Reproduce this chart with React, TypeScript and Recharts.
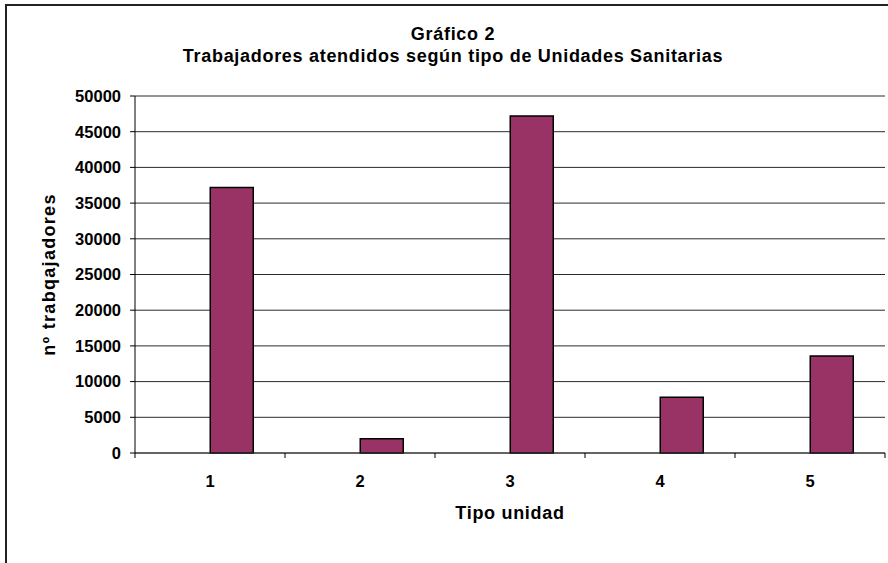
import React from "react";
import { BarChart, Bar, XAxis, YAxis, CartesianGrid } from "recharts";

const categories = ["1", "2", "3", "4", "5"];
const trabajadores = [37200, 2000, 47200, 7800, 13600];
const emptySeries: (number | null)[] = [null, null, null, null, null];
const yTicks = [0, 5000, 10000, 15000, 20000, 25000, 30000, 35000, 40000, 45000, 50000];
const titleLine1 = "Gráfico 2";
const titleLine2 = "Trabajadores atendidos según tipo de Unidades Sanitarias";
const yLabel = "nº trabqajadores";
const xLabel = "Tipo unidad";

const data = categories.map((c, i) => ({
  tipo: c,
  vacio: emptySeries[i],
  trabajadores: trabajadores[i],
}));

const FONT = "'Liberation Sans', Arial, sans-serif";

const CategoryTick = (props: any) => {
  const { x, y, payload, index } = props;
  const half = payload && typeof payload.offset === "number" ? payload.offset : 0;
  return (
    <g>
      <text
        x={x}
        y={y + 22}
        dy="0.71em"
        textAnchor="middle"
        fontFamily={FONT}
        fontWeight="bold"
        fontSize={16.5}
        fill="#000"
      >
        {payload.value}
      </text>
      {index === 0 && half > 0 && (
        <line x1={x - half} x2={x - half} y1={y} y2={y + 5} stroke="#000" strokeWidth={1} />
      )}
      {half > 0 && (
        <line x1={x + half} x2={x + half} y1={y} y2={y + 5} stroke="#000" strokeWidth={1} />
      )}
    </g>
  );
};

const YLabel = (props: any) => {
  const vb = props.viewBox || { x: 0, y: 0, width: 0, height: 0 };
  const cx = vb.x + 49;
  const cy = vb.y + vb.height / 2;
  return (
    <text
      x={cx}
      y={cy}
      transform={`rotate(-90, ${cx}, ${cy})`}
      textAnchor="middle"
      dominantBaseline="central"
      fontFamily={FONT}
      fontWeight="bold"
      fontSize={18}
      letterSpacing={1.3}
      fill="#000"
    >
      {yLabel}
    </text>
  );
};

const XLabel = (props: any) => {
  const vb = props.viewBox || { x: 0, y: 0, width: 0, height: 0 };
  const cx = vb.x + vb.width / 2;
  return (
    <text
      x={cx}
      y={vb.y + 66}
      textAnchor="middle"
      fontFamily={FONT}
      fontWeight="bold"
      fontSize={18}
      letterSpacing={0.7}
      fill="#000"
    >
      {xLabel}
    </text>
  );
};

export default function App() {
  return (
    <div
      style={{
        position: "absolute",
        left: 0,
        top: 0,
        width: 888,
        height: 563,
        overflow: "hidden",
        background: "#fff",
      }}
    >
      <div
        style={{
          position: "absolute",
          left: 5,
          top: 4,
          width: 1000,
          height: 1000,
          border: "2px solid #222",
          boxSizing: "border-box",
        }}
      />
      <div style={{ position: "absolute", left: 0, top: 0 }}>
        <BarChart
          width={888}
          height={563}
          data={data}
          margin={{ top: 96, right: 3, bottom: 109, left: 0 }}
          barCategoryGap="21.5%"
          barGap={0}
        >
          <CartesianGrid
            xAxisId="cat"
            vertical={false}
            stroke="#2a2a2a"
            strokeWidth={1}
            horizontalValues={yTicks}
          />
          <XAxis
            xAxisId="cat"
            dataKey="tipo"
            type="category"
            height={1}
            tickSize={0}
            tickMargin={0}
            tickLine={false}
            axisLine={{ stroke: "#333", strokeWidth: 1 }}
            tick={<CategoryTick />}
            interval={0}
            label={{ content: <XLabel /> }}
          />
          <YAxis
            width={135}
            type="number"
            domain={[0, 50000]}
            ticks={yTicks}
            interval={0}
            tickSize={5}
            tickMargin={9}
            axisLine={{ stroke: "#000", strokeWidth: 1 }}
            tickLine={{ stroke: "#000", strokeWidth: 1 }}
            tick={{
              fill: "#000",
              fontFamily: FONT,
              fontWeight: "bold",
              fontSize: 16.5,
            }}
            label={{ content: <YLabel /> }}
          />
          <Bar
            xAxisId="cat"
            dataKey="vacio"
            fill="#993366"
            isAnimationActive={false}
          />
          <Bar
            xAxisId="cat"
            dataKey="trabajadores"
            fill="#993366"
            stroke="#000"
            strokeWidth={1.5}
            isAnimationActive={false}
          />
        </BarChart>
      </div>
      <svg
        width={888}
        height={80}
        style={{ position: "absolute", left: 0, top: 0, pointerEvents: "none" }}
      >
        <text
          x={453}
          y={40}
          textAnchor="middle"
          fontFamily={FONT}
          fontWeight="bold"
          fontSize={18}
          letterSpacing={0.7}
          fill="#000"
        >
          {titleLine1}
        </text>
        <text
          x={453}
          y={62}
          textAnchor="middle"
          fontFamily={FONT}
          fontWeight="bold"
          fontSize={18}
          letterSpacing={0.7}
          fill="#000"
        >
          {titleLine2}
        </text>
      </svg>
    </div>
  );
}
